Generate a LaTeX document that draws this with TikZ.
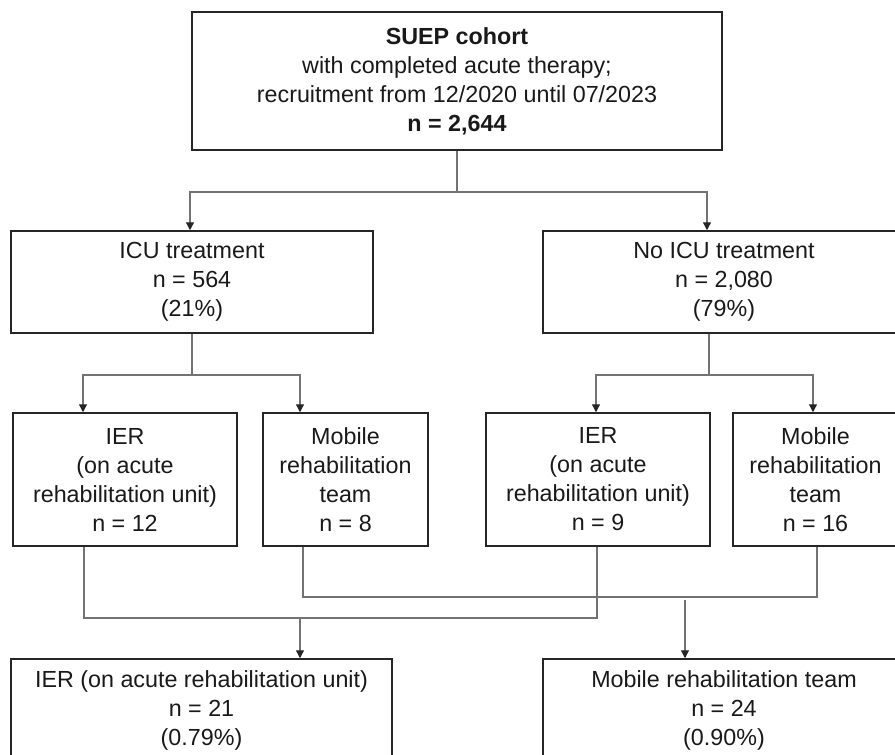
\documentclass[tikz,border=0pt]{standalone}
\usepackage{fontspec}
\setmainfont{Liberation Sans}
\usetikzlibrary{arrows.meta}
\begin{document}
\begin{tikzpicture}[x=1pt,y=-1pt,
  box/.style={draw=black!85,line width=1.5pt,rectangle,inner sep=0pt,align=center,
    font=\fontsize{23.3}{29}\selectfont,text=black!90},
  conn/.style={draw=black!55,line width=1.3pt},
  arr/.style={-{Triangle[length=8pt,width=8pt,color=black!85]}}]
\useasboundingbox (0,0) rectangle (895,755);
\clip (0,0) rectangle (895,755);
% boxes
\node[box,minimum width=530pt,minimum height=138pt] (top) at (457,81)
  {\textbf{SUEP cohort}\\with completed acute therapy;\\recruitment from 12/2020 until 07/2023\\\textbf{n = 2,644}};
\node[box,minimum width=362pt,minimum height=102pt] (icu) at (192,282)
  {ICU treatment\\n = 564\\(21\%)};
\node[box,minimum width=362pt,minimum height=102pt] (noicu) at (724,282)
  {No ICU treatment\\n = 2,080\\(79\%)};
\node[box,minimum width=224pt,minimum height=133pt] (ier1) at (125,479.5)
  {IER\\(on acute\\rehabilitation unit)\\n = 12};
\node[box,minimum width=165pt,minimum height=133pt] (mob1) at (345.5,479.5)
  {Mobile\\rehabilitation\\team\\n = 8};
\node[box,minimum width=224pt,minimum height=133pt] (ier2) at (598,479.5)
  {IER\\(on acute\\rehabilitation unit)\\n = 9};
\node[box,minimum width=165pt,minimum height=133pt] (mob2) at (815.5,479.5)
  {Mobile\\rehabilitation\\team\\n = 16};
\node[box,minimum width=381pt,minimum height=102pt] (bot1) at (201.5,710)
  {IER (on acute rehabilitation unit)\\n = 21\\(0.79\%)};
\node[box,minimum width=362pt,minimum height=102pt] (bot2) at (724,710)
  {Mobile rehabilitation team\\n = 24\\(0.90\%)};
% junction coordinates
\coordinate (a1) at (190,192);
\coordinate (a2) at (707,192);
\coordinate (b1) at (83,375);
\coordinate (b2) at (300,375);
\coordinate (c0) at (709,375);
\coordinate (c1) at (596,375);
\coordinate (c2) at (813,375);
\coordinate (d1) at (84,618);
\coordinate (d2) at (597,618);
\coordinate (d0) at (300,618);
\coordinate (e1) at (303,597);
\coordinate (e2) at (817,597);
\coordinate (e0) at (685,600);
% connectors
\draw[conn,arr] (top.south) |- (a1) -- (a1 |- icu.north);
\draw[conn,arr] (top.south) |- (a2) -- (a2 |- noicu.north);
\draw[conn,arr] (icu.south) |- (b1) -- (b1 |- ier1.north);
\draw[conn,arr] (icu.south) |- (b2) -- (b2 |- mob1.north);
\draw[conn,arr] (c0 |- noicu.south) |- (c1) -- (c1 |- ier2.north);
\draw[conn,arr] (c0 |- noicu.south) |- (c2) -- (c2 |- mob2.north);
\draw[conn] (d1 |- ier1.south) -- (d1) -- (d2) -- (d2 |- ier2.south);
\draw[conn,arr] (d0) -- (d0 |- bot1.north);
\draw[conn] (e1 |- mob1.south) -- (e1) -- (e2) -- (e2 |- mob2.south);
\draw[conn,arr] (e0) -- (e0 |- bot2.north);
\end{tikzpicture}
\end{document}
